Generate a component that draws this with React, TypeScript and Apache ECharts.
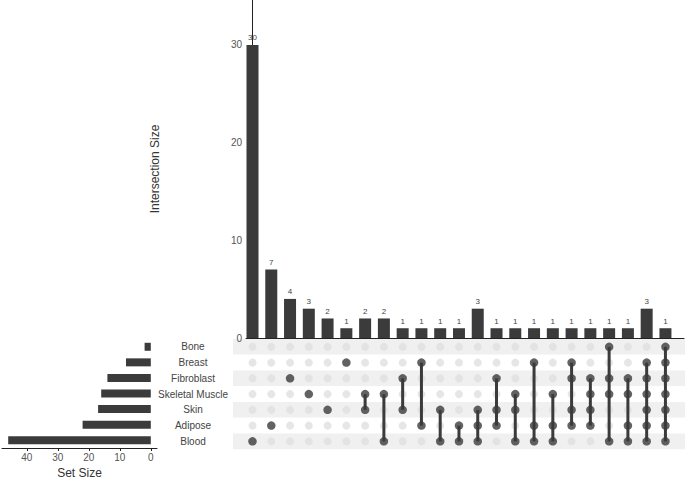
import React, { useEffect, useRef } from "react";
import * as echarts from "echarts";

const sets = ["Bone", "Breast", "Fibroblast", "Skeletal Muscle", "Skin", "Adipose", "Blood"];
const setSizes = [2, 8, 14, 16, 17, 22, 46];
const intersectionSizes = [30, 7, 4, 3, 2, 1, 2, 2, 1, 1, 1, 1, 3, 1, 1, 1, 1, 1, 1, 1, 1, 3, 1];
const intersectionMembers: string[][] = [
  ["Blood"],
  ["Adipose"],
  ["Fibroblast"],
  ["Skeletal Muscle"],
  ["Skin"],
  ["Breast"],
  ["Skeletal Muscle", "Skin"],
  ["Skeletal Muscle", "Blood"],
  ["Fibroblast", "Skin"],
  ["Breast", "Adipose"],
  ["Skin", "Blood"],
  ["Adipose", "Blood"],
  ["Skin", "Adipose", "Blood"],
  ["Fibroblast", "Skin", "Adipose"],
  ["Skeletal Muscle", "Skin", "Blood"],
  ["Breast", "Adipose", "Blood"],
  ["Skeletal Muscle", "Adipose", "Blood"],
  ["Breast", "Fibroblast", "Skin", "Adipose"],
  ["Fibroblast", "Skeletal Muscle", "Skin", "Adipose"],
  ["Bone", "Fibroblast", "Skeletal Muscle", "Blood"],
  ["Fibroblast", "Skeletal Muscle", "Adipose", "Blood"],
  ["Breast", "Fibroblast", "Skeletal Muscle", "Skin", "Adipose", "Blood"],
  ["Bone", "Breast", "Fibroblast", "Skeletal Muscle", "Skin", "Adipose", "Blood"],
];
const intersectionTicks = [0, 10, 20, 30];
const setSizeTicks = [0, 10, 20, 30, 40];

const FONT = "'Liberation Sans', Arial, sans-serif";
const W = 685;
const X0 = 252.5;
const DX = 18.77;
const xr = (l: number, r: number) => [(l - X0) / DX, (r - X0) / DX];
const ROW_TOP = 339;
const ROW_H = 15.75;
const DARK = "#3b3b3b";

export default function App() {
  const ref = useRef<HTMLDivElement>(null);
  useEffect(() => {
    if (!ref.current) return;
    const chart = echarts.init(ref.current, undefined, { renderer: "svg" });
    const topX = xr(246, 684);
    const matX = xr(233, 685);

    const empty: number[][] = [];
    const filled: number[][] = [];
    const links: number[][] = [];
    intersectionMembers.forEach((mem, i) => {
      const idx = mem.map((m) => sets.indexOf(m));
      sets.forEach((_, s) => {
        if (idx.includes(s)) filled.push([i, s]);
        else empty.push([i, s]);
      });
      if (idx.length > 1) links.push([i, Math.min(...idx), Math.max(...idx)]);
    });

    chart.setOption({
      animation: false,
      textStyle: { fontFamily: FONT },
      grid: [
        { left: 246, right: W - 684, top: 0, height: 338 },
        { left: 233, right: 0, top: ROW_TOP, height: ROW_H * 7 },
        { left: 2, right: W - 157, top: ROW_TOP, height: ROW_H * 7 },
      ],
      xAxis: [
        {
          gridIndex: 0, type: "value", min: topX[0], max: topX[1],
          axisLine: { show: true, lineStyle: { color: "#222", width: 1 } },
          axisTick: { show: false }, axisLabel: { show: false }, splitLine: { show: false },
        },
        {
          gridIndex: 1, type: "value", min: matX[0], max: matX[1], show: false, splitLine: { show: false },
        },
        {
          gridIndex: 2, type: "value", inverse: true, min: -2, max: 48,
          axisLine: { show: true, onZero: false, lineStyle: { color: "#222", width: 1 } },
          axisTick: { show: true, length: 3, customValues: setSizeTicks, lineStyle: { color: "#222" } },
          axisLabel: { customValues: setSizeTicks, fontSize: 10, color: "#555", margin: 4, fontFamily: FONT },
          splitLine: { show: false },
          name: "Set Size", nameLocation: "middle", nameGap: 19,
          nameTextStyle: { fontSize: 12, color: "#333", fontFamily: FONT },
        },
      ],
      yAxis: [
        {
          gridIndex: 0, type: "value", min: 0, max: 34.6,
          axisLine: { show: true, lineStyle: { color: "#222", width: 1 } },
          axisTick: { show: true, length: 4, customValues: intersectionTicks, lineStyle: { color: "#222" } },
          axisLabel: { customValues: intersectionTicks, fontSize: 10, color: "#555", margin: 4, fontFamily: FONT },
          splitLine: { show: false },
          name: "Intersection Size", nameLocation: "middle", nameGap: 85, nameRotate: 90,
          nameTextStyle: { fontSize: 12, color: "#333", fontFamily: FONT },
        },
        {
          gridIndex: 1, type: "category", data: sets, inverse: true,
          axisLine: { show: false }, axisTick: { show: false },
          axisLabel: { margin: 40, align: "center", fontSize: 10, color: "#444", fontFamily: FONT },
          splitArea: { show: true, areaStyle: { color: ["#f0f0f0", "#ffffff"] } },
          splitLine: { show: false },
        },
        {
          gridIndex: 2, type: "category", data: sets, inverse: true, show: false,
        },
      ],
      series: [
        {
          type: "bar", xAxisIndex: 0, yAxisIndex: 0,
          data: intersectionSizes.map((v, i) => [i, v]),
          barWidth: 12, itemStyle: { color: DARK },
          label: { show: true, position: "top", distance: 3, fontSize: 8, color: "#444", fontFamily: FONT },
        },
        {
          type: "scatter", xAxisIndex: 1, yAxisIndex: 1, data: empty,
          symbolSize: 8, itemStyle: { color: "#e0e0e0" }, z: 2,
        },
        {
          type: "custom", xAxisIndex: 1, yAxisIndex: 1, data: links,
          encode: { x: 0, y: [1, 2] }, z: 3,
          renderItem: (params: any, api: any) => {
            const p1 = api.coord([api.value(0), api.value(1)]);
            const p2 = api.coord([api.value(0), api.value(2)]);
            return {
              type: "line",
              shape: { x1: p1[0], y1: p1[1], x2: p2[0], y2: p2[1] },
              style: { stroke: DARK, lineWidth: 3 },
            };
          },
        },
        {
          type: "scatter", xAxisIndex: 1, yAxisIndex: 1, data: filled,
          symbolSize: 8.5, itemStyle: { color: DARK }, z: 4,
        },
        {
          type: "bar", xAxisIndex: 2, yAxisIndex: 2, data: setSizes,
          barWidth: 8, itemStyle: { color: DARK },
        },
      ],
    });
    return () => chart.dispose();
  }, []);
  return (
    <div
      ref={ref}
      style={{ position: "absolute", left: 0, top: 0, width: 685, height: 480, background: "#fff" }}
    />
  );
}
